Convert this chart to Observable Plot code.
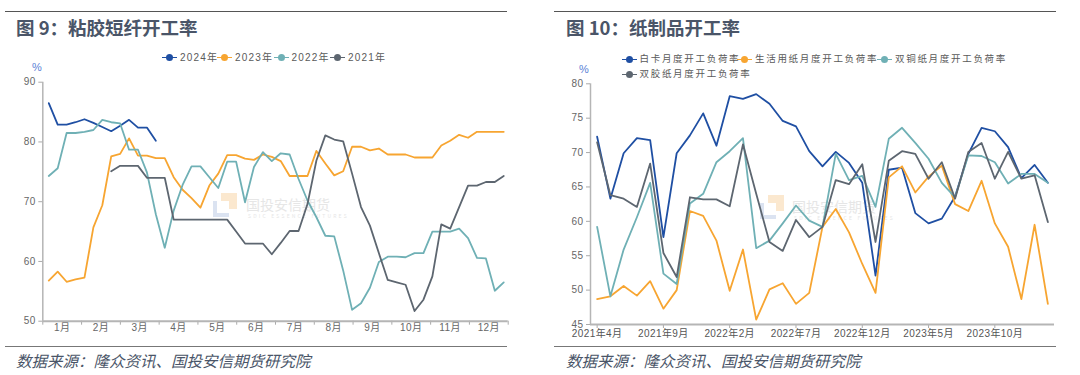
<!DOCTYPE html>
<html><head><meta charset="utf-8">
<script src="https://cdn.jsdelivr.net/npm/d3@7"></script>
<script src="https://cdn.jsdelivr.net/npm/@observablehq/plot@0.6"></script>
<style>
body{margin:0;width:1080px;height:375px;background:#fff;position:relative;overflow:hidden;font-family:"Liberation Sans","Noto Sans CJK SC",sans-serif;}
.rule{position:absolute;height:0;}
.title{position:absolute;font-family:"Noto Sans CJK SC",sans-serif;font-weight:700;font-size:18.5px;color:#4a5568;line-height:1;white-space:nowrap;}
.caption{position:absolute;font-family:"Noto Sans CJK SC",sans-serif;font-style:italic;font-size:15.5px;color:#4a5568;line-height:1;white-space:nowrap;}
.pct{position:absolute;font-size:11px;color:#5b7fd6;line-height:1;transform:translateY(-50%);}
.leg{position:absolute;white-space:nowrap;line-height:1;color:#5a5a5a;transform:translateY(-50%);}
.mk{position:absolute;height:1.5px;width:15px;}
.dot{position:absolute;width:7px;height:7px;border-radius:50%;}
.wm{position:absolute;color:#e6e6e6;font-family:"Noto Sans CJK SC",sans-serif;white-space:nowrap;line-height:1;}
.chart{position:absolute;}
</style></head>
<body>
<div class="rule" style="left:5px;top:11px;width:502px;border-top:1.5px solid #555;"></div>
<div class="rule" style="left:554px;top:11px;width:502px;border-top:1.5px solid #555;"></div>
<div class="title" style="left:16px;top:18px;">图 9：粘胶短纤开工率</div>
<div class="title" style="left:566px;top:18px;">图 10：纸制品开工率</div>
<div class="pct" style="left:32px;top:67px;">%</div>
<div class="pct" style="left:579px;top:69px;">%</div>

<div class="wm" style="left:213px;top:193px;width:24px;height:24px;">
  <div style="position:absolute;left:8px;top:0;width:16px;height:16px;background:#fbe8cf;"></div>
  <div style="position:absolute;left:0;top:8px;width:16px;height:16px;background:#dbe3f1;"></div>
  <div style="position:absolute;left:4px;top:8px;width:12px;height:12px;background:#fff;"></div>
</div>
<div class="wm" style="left:246px;top:197px;font-size:14px;">国投安信期货</div>
<div class="wm" style="left:248px;top:213px;font-size:5px;letter-spacing:2.2px;">SDIC ESSENCE FUTURES</div>
<div class="wm" style="left:760px;top:195px;width:24px;height:24px;">
  <div style="position:absolute;left:8px;top:0;width:16px;height:16px;background:#fbe8cf;"></div>
  <div style="position:absolute;left:0;top:8px;width:16px;height:16px;background:#dbe3f1;"></div>
  <div style="position:absolute;left:4px;top:8px;width:12px;height:12px;background:#fff;"></div>
</div>
<div class="wm" style="left:792px;top:199px;font-size:14px;">国投安信期货</div>
<div class="wm" style="left:794px;top:215px;font-size:5px;letter-spacing:2.2px;">SDIC ESSENCE FUTURES</div>

<div id="left" class="chart" style="left:0;top:60px;"></div>
<div id="right" class="chart" style="left:540px;top:60px;"></div>
<div id="legends"></div>

<div class="rule" style="left:5px;top:346px;width:502px;border-top:1.5px solid #777;"></div>
<div class="rule" style="left:554px;top:346px;width:502px;border-top:1.5px solid #777;"></div>
<div class="caption" style="left:16px;top:353px;">数据来源：隆众资讯、国投安信期货研究院</div>
<div class="caption" style="left:566px;top:353px;">数据来源：隆众资讯、国投安信期货研究院</div>

<script>
// ---------- Left chart: 粘胶短纤开工率 (weekly, %) ----------
const monthLabels = ["1月","2月","3月","4月","5月","6月","7月","8月","9月","10月","11月","12月"];
const yearNames = ["2024年","2023年","2022年","2021年"];
const yearColors = ["#1f4fa3","#f7a531","#6fb0b5","#5d6670"];
const rayon2024 = [86.5,82.9,82.9,83.3,83.8,83.2,82.5,81.8,82.7,83.7,82.4,82.4,80.2];
const rayon2023 = [56.8,58.3,56.6,57.0,57.3,65.7,69.4,77.6,78.0,80.6,
  77.7,77.7,77.3,77.3,74.1,72.0,70.6,69.0,72.7,74.7,
  77.8,77.8,77.2,77.0,77.9,77.5,76.8,74.3,74.3,74.3,
  78.5,76.4,74.4,75.1,79.2,79.2,78.6,78.9,77.9,77.9,
  77.9,77.4,77.4,77.4,79.4,80.2,81.2,80.7,81.7,81.7,
  81.7,81.7];
const rayon2022 = [74.3,75.6,81.5,81.5,81.7,82.0,83.7,83.3,83.1,78.7,
  78.7,74.9,67.9,62.3,68.5,72.8,75.9,75.9,74.1,72.3,
  76.7,76.7,69.9,75.8,78.3,76.8,78.1,77.9,73.8,70.2,
  67.4,64.3,64.2,58.5,51.9,53.0,55.6,59.9,60.8,60.8,
  60.7,61.4,61.4,65.0,65.0,65.0,65.5,63.9,60.6,60.5,
  55.1,56.5];
const rayon2021 = [null,null,null,null,null,null,null,75.1,76.0,76.0,
  76.0,74.0,74.0,74.0,67.0,67.0,67.0,67.0,67.0,67.0,
  67.0,65.0,63.0,63.0,63.0,61.2,63.1,65.1,65.1,69.6,
  76.9,81.1,80.4,80.1,74.7,69.1,66.0,61.4,56.9,56.5,
  56.1,51.7,53.6,57.5,66.2,65.5,69.1,72.7,72.7,73.3,
  73.3,74.3];
const leftYTicks = [50,60,70,80,90];

// ---------- Right chart: 纸制品开工率 (monthly, %) ----------
const paperMonths = ["2021-04","2021-05","2021-06","2021-07","2021-08","2021-09","2021-10","2021-11","2021-12",
  "2022-01","2022-02","2022-03","2022-04","2022-05","2022-06","2022-07","2022-08","2022-09","2022-10","2022-11","2022-12",
  "2023-01","2023-02","2023-03","2023-04","2023-05","2023-06","2023-07","2023-08","2023-09","2023-10","2023-11","2023-12",
  "2024-01","2024-02"];
const paperNames = ["白卡月度开工负荷率","生活用纸月度开工负荷率","双铜纸月度开工负荷率","双胶纸月度开工负荷率"];
const paperColors = ["#1f4fa3","#f7a531","#6fb0b5","#5d6670"];
const baika = [72.3,63.3,69.9,72.1,71.8,57.7,69.9,72.5,75.7,71.0,78.2,77.8,78.5,77.1,74.6,73.8,70.2,68.0,70.1,68.5,65.6,52.1,67.5,67.8,61.2,59.7,60.4,63.6,69.8,73.6,73.1,70.8,66.3,68.2,65.6];
const shenghuo = [48.7,49.1,50.6,49.2,51.3,47.3,50.0,61.5,60.8,57.2,49.9,55.9,45.7,50.1,51.0,48.0,49.6,59.2,61.8,58.4,53.8,49.6,66.4,68.0,64.2,66.5,68.1,62.5,61.5,65.9,59.7,56.3,48.7,59.5,48.0];
const shuangtong = [59.2,49.1,55.9,60.6,65.6,52.4,50.9,62.6,64.0,68.6,70.2,72.1,56.1,57.2,59.7,62.3,60.1,59.2,69.8,66.0,66.6,62.1,72.0,73.6,71.4,69.1,65.6,63.5,69.6,69.5,68.6,65.5,66.9,66.9,65.6];
const shuangjiao = [71.5,63.8,63.3,62.1,68.4,55.4,51.9,63.5,63.2,63.2,62.2,71.2,64.0,57.0,55.7,60.2,57.7,59.2,66.0,65.4,68.3,57.0,68.8,70.2,69.8,66.2,68.6,63.3,70.1,71.4,66.2,70.1,66.2,66.7,59.9];
const rightXTickIdx = [0,5,10,15,20,25,30];
const rightYTicks = [45,50,55,60,65,70,75,80];

const axisFont = '"Liberation Sans","Noto Sans CJK SC",sans-serif';

// Left
const leftSeries = [rayon2024, rayon2023, rayon2022, rayon2021];
const leftData = leftSeries.flatMap((vals, s) => vals.map((v, i) => ({series: yearNames[s], week: i + 1, value: v})));
const X0 = 0.33, X1 = 52.5, mstep = (X1 - X0) / 12;
const bounds = d3.range(13).map(k => X0 + k * mstep);
const centers = d3.range(12).map(k => X0 + (k + 0.5) * mstep);

const leftPlot = Plot.plot({
  width: 520, height: 290,
  marginLeft: 42.3, marginRight: 12.3, marginTop: 21.7, marginBottom: 29.3,
  style: {background: "transparent", fontFamily: axisFont, fontSize: "10px", color: "#666", overflow: "visible", letterSpacing: "0.4px"},
  x: {domain: [X0, X1]},
  y: {domain: [50, 90]},
  color: {domain: yearNames, range: yearColors},
  marks: [
    Plot.ruleX([X0], {stroke: "#b5b5b5", strokeWidth: 1.5}),
    Plot.axisY({ticks: leftYTicks, tickSize: 4, tickPadding: 3, stroke: "#aaa", fill: "#666", label: null}),
    Plot.axisX({ticks: bounds, tickSize: 4, tickFormat: () => "", stroke: "#aaa", label: null}),
    Plot.axisX({ticks: centers, tickSize: 0, tickPadding: 3, fill: "#666", label: null,
      tickFormat: d => monthLabels[Math.round((d - X0) / mstep - 0.5)]}),
    Plot.lineY(leftData, {x: "week", y: "value", z: "series", stroke: "series", strokeWidth: 1.8}),
    Plot.ruleY([50], {stroke: "#b5b5b5", strokeWidth: 2})
  ]
});
document.getElementById("left").appendChild(leftPlot);

// Right
const rightSeries = [baika, shenghuo, shuangtong, shuangjiao];
const rightData = rightSeries.flatMap((vals, s) => vals.map((v, i) => ({series: paperNames[s], i, value: v})));
const fmtMonth = i => { const [y, m] = paperMonths[i].split("-"); return `${y}年${+m}月`; };
const rightPlot = Plot.plot({
  width: 530, height: 290,
  marginLeft: 50, marginRight: 16, marginTop: 23.3, marginBottom: 26,
  style: {background: "transparent", fontFamily: axisFont, fontSize: "10px", color: "#666", overflow: "visible", letterSpacing: "0.4px"},
  x: {domain: [-0.5, paperMonths.length - 0.5]},
  y: {domain: [45, 80]},
  color: {domain: paperNames, range: paperColors},
  marks: [
    Plot.ruleX([-0.5], {stroke: "#b5b5b5", strokeWidth: 1.5}),
    Plot.axisY({ticks: rightYTicks, tickSize: 4, tickPadding: 3, stroke: "#aaa", fill: "#666", label: null}),
    Plot.axisX({ticks: rightXTickIdx, tickSize: 4, tickPadding: 1.5, stroke: "#aaa", fill: "#555", label: null, tickFormat: fmtMonth}),
    Plot.lineY(rightData, {x: "i", y: "value", z: "series", stroke: "series", strokeWidth: 1.8}),
    Plot.ruleY([45], {stroke: "#b5b5b5", strokeWidth: 2})
  ]
});
document.getElementById("right").appendChild(rightPlot);

// Legends
const legRoot = document.getElementById("legends");
function legendItem(x, y, color, text, fs, ls) {
  const m = document.createElement("div");
  m.className = "mk"; m.style.left = x + "px"; m.style.top = (y - 0.75) + "px"; m.style.background = color;
  legRoot.appendChild(m);
  const d = document.createElement("div");
  d.className = "dot"; d.style.left = (x + 4) + "px"; d.style.top = (y - 3.5) + "px"; d.style.background = color;
  legRoot.appendChild(d);
  const t = document.createElement("div");
  t.className = "leg"; t.style.left = (x + 18) + "px"; t.style.top = y + "px";
  t.style.fontSize = fs + "px"; t.style.letterSpacing = ls + "px"; t.textContent = text;
  legRoot.appendChild(t);
}
const leftLegX = [162, 217, 273.5, 330];
yearNames.forEach((n, k) => legendItem(leftLegX[k], 57.7, yearColors[k], n, 10, 1.2));
const rightLegPos = [[621.5, 59.3], [737, 59.3], [877, 59.3], [621.5, 74.3]];
paperNames.forEach((n, k) => legendItem(rightLegPos[k][0], rightLegPos[k][1], paperColors[k], n, 9.5, 1.7));
</script>
</body></html>
